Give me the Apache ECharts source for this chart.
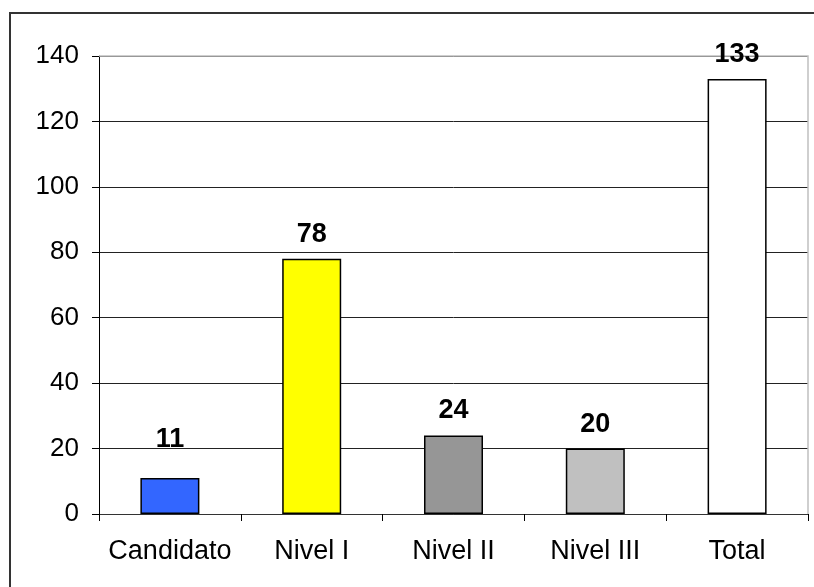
<!DOCTYPE html>
<html>
<head>
<meta charset="utf-8">
<script src="https://cdn.jsdelivr.net/npm/echarts@6/dist/echarts.min.js"></script>
<style>
html,body{margin:0;padding:0;background:#fff;}
#c{width:814px;height:587px;}
</style>
</head>
<body>
<div id="c"></div>
<script>
var categories = ['Candidato', 'Nivel I', 'Nivel II', 'Nivel III', 'Total'];
var values = [11, 78, 24, 20, 133];
var barColors = ['#3366FF', '#FFFF00', '#969696', '#C0C0C0', '#FFFFFF'];
var yTicks = [0, 20, 40, 60, 80, 100, 120, 140];

var chart = echarts.init(document.getElementById('c'), null, {renderer: 'canvas'});
var font = '"Liberation Sans", Arial, sans-serif';

var seriesData = values.map(function (v, i) {
  var item = {value: v, itemStyle: {color: barColors[i]}};
  if (i === 0) item.label = {distance: 25};
  return item;
});

chart.setOption({
  animation: false,
  backgroundColor: '#fff',
  graphic: [{
    type: 'polyline',
    shape: {points: [[10, 587], [10, 13], [814, 13]]},
    style: {fill: 'none', stroke: '#333', lineWidth: 2},
    z: 100
  }, {
    type: 'polyline',
    shape: {points: [[99, 56], [808, 56], [808, 514]]},
    style: {fill: 'none', stroke: '#c0c0c0', lineWidth: 1.5},
    z: 1
  }],
  grid: {left: 99, right: 6, top: 56, bottom: 73, containLabel: false},
  xAxis: {
    type: 'category',
    data: categories,
    axisLine: {lineStyle: {color: '#333', width: 1}},
    axisTick: {show: true, inside: false, length: 7, alignWithLabel: false, lineStyle: {color: '#000'}},
    axisLabel: {color: '#000', fontFamily: font, fontSize: 27, margin: 24, interval: 0}
  },
  yAxis: {
    type: 'value',
    min: yTicks[0],
    max: yTicks[yTicks.length - 1],
    interval: 20,
    axisLine: {show: true, lineStyle: {color: '#000', width: 1}},
    axisTick: {show: true, inside: false, length: 7, lineStyle: {color: '#000'}},
    axisLabel: {color: '#000', fontFamily: font, fontSize: 26, margin: 20},
    splitLine: {show: true, lineStyle: {color: '#222', width: 1}}
  },
  series: [{
    type: 'bar',
    data: seriesData,
    barWidth: 59,
    itemStyle: {borderColor: '#000', borderWidth: 1.5},
    label: {
      show: true,
      position: 'top',
      distance: 11,
      color: '#000',
      fontFamily: font,
      fontSize: 27,
      fontWeight: 'bold'
    }
  }]
});
</script>
</body>
</html>
